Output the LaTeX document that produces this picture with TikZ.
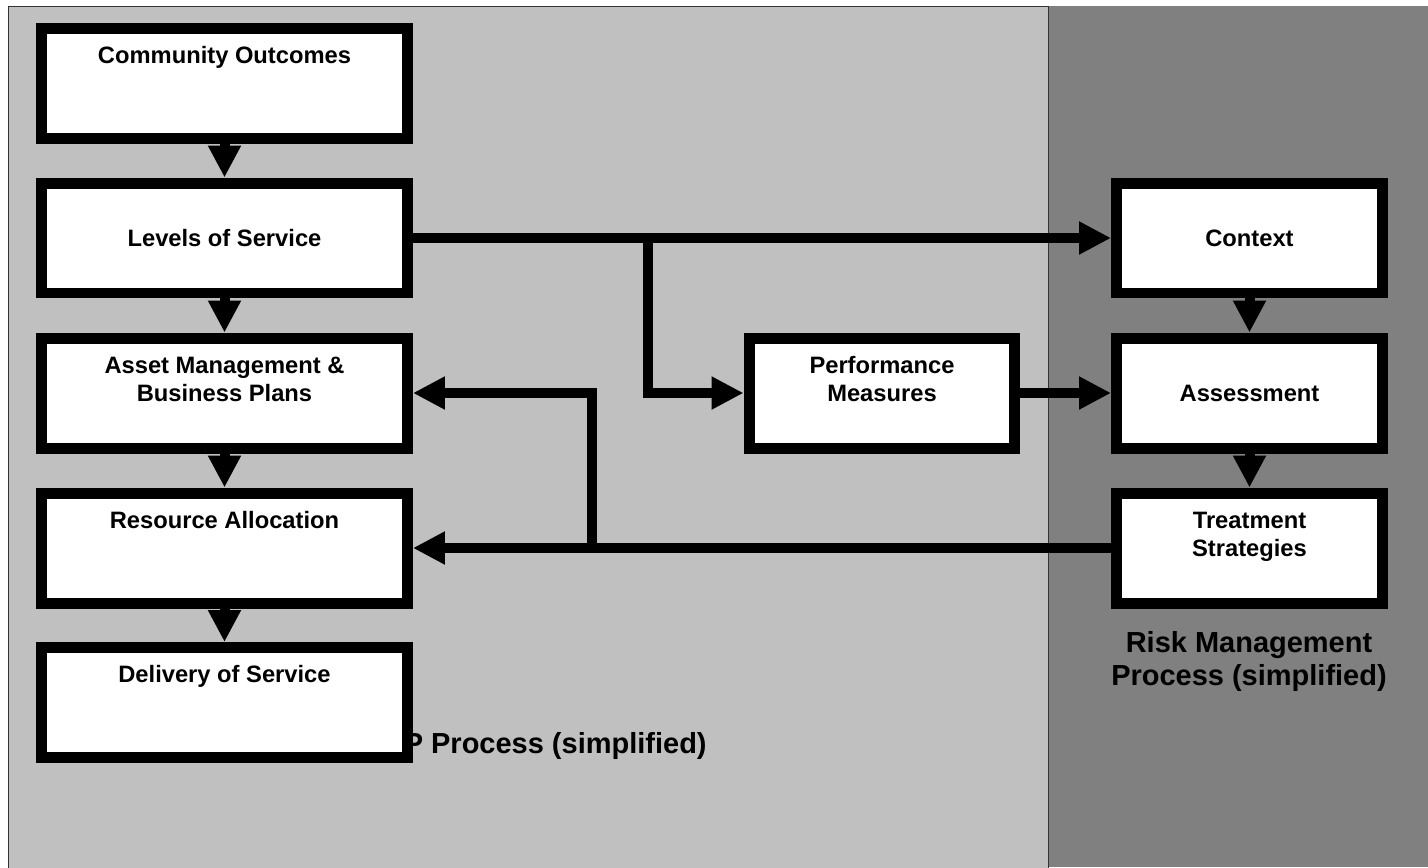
\documentclass[tikz,border=0pt]{standalone}
\usepackage{fontspec}
\setmainfont{Liberation Sans}
\usepackage{xcolor}
\usepackage{tikz}
\usetikzlibrary{arrows.meta,positioning}
\definecolor{panelLight}{HTML}{C0C0C0}
\definecolor{panelDark}{HTML}{808080}

\begin{document}
\begin{tikzpicture}[
    x=0.02cm, y=-0.02cm,
    procbox/.style={rectangle, draw, fill=white, line width=0.22cm, minimum width=7.32cm, minimum height=2.2cm, align=center, font=\bfseries\fontsize{13.5}{16}\selectfont},
    riskbox/.style={procbox, minimum width=5.32cm},
    title/.style={font=\bfseries\fontsize{16.5}{19}\selectfont, inner sep=0pt},
    arrow/.style={line width=0.2cm, -{Triangle[length=0.64cm, width=0.62cm]}}
]
    \useasboundingbox (0,0) rectangle (1428,867);
    % background panels
    \fill[panelDark] (1048,6) rectangle (1428,867);
    \draw[fill=panelLight, draw=black!80, line width=0.5pt] (8,6) rectangle (1048,880);

    \node[title, anchor=base east] (amptitle) at (707,753) {P Process (simplified)};
    \node[title, anchor=north, align=center] (risktitle) at (1249,631) {Risk Management\\Process (simplified)};

    % left column
    \node[procbox] (co) at (224.5,83.5) {Community Outcomes\\~\\~};
    \node[procbox] (ls) at (224.5,238) {Levels of Service};
    \node[procbox] (am) at (224.5,393) {Asset Management \&\\Business Plans\\~};
    \node[procbox] (ra) at (224.5,548) {Resource Allocation\\~\\~};
    \node[procbox] (dv) at (224.5,702.5) {Delivery of Service\\~\\~};

    \node[riskbox] (pm) at (882,393) {Performance\\Measures\\~};

    % right column
    \node[riskbox] (cx) at (1249.5,238) {Context};
    \node[riskbox] (as) at (1249.5,393) {Assessment};
    \node[riskbox] (ts) at (1249.5,548) {Treatment\\Strategies\\~};

    \foreach \a/\b in {co/ls, ls/am, am/ra, ra/dv, cx/as, as/ts}
        \draw[arrow] (\a.south) -- (\b.north);

    \draw[arrow] (ls.east) -- (cx.west);
    \coordinate (j1) at (648,238);
    \draw[arrow] (j1) |- (pm.west);
    \draw[arrow] (pm.east) -- (as.west);

    \draw[arrow] (ts.west) -- (ra.east);
    \coordinate (j2) at (592,548);
    \draw[arrow] (j2) |- (am.east);
\end{tikzpicture}
\end{document}
